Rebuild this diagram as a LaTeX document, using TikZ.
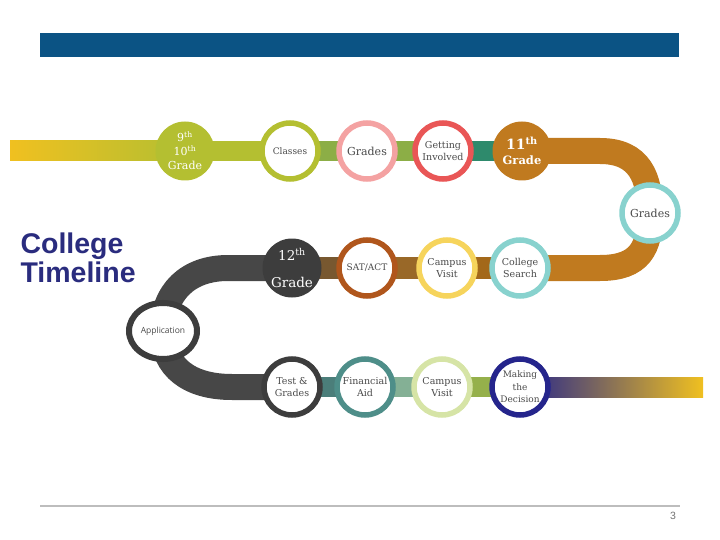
\documentclass[tikz,border=0pt]{standalone}
\usepackage{fontspec}
\setmainfont{DejaVu Serif}
\setsansfont{Liberation Sans}
\newfontfamily\appfont{Open Sans}
\usetikzlibrary{backgrounds,calc,shapes.geometric}
\definecolor{topblue}{HTML}{0B5384}
\definecolor{titlenavy}{HTML}{2A2C7E}
\definecolor{rulegray}{HTML}{BDBDBD}
\definecolor{labelgray}{HTML}{4A4A4A}
\definecolor{gold}{HTML}{F0C020}
\definecolor{olivec}{HTML}{B4BF31}
\definecolor{leafc}{HTML}{8CAE46}
\definecolor{pinkc}{HTML}{F4A2A2}
\definecolor{redc}{HTML}{E95656}
\definecolor{tealg}{HTML}{2E8A6C}
\definecolor{brownc}{HTML}{C07A1F}
\definecolor{aquac}{HTML}{88D2CE}
\definecolor{darkc}{HTML}{3D3D3D}
\definecolor{rustc}{HTML}{B0561C}
\definecolor{yellowc}{HTML}{F6D45C}
\definecolor{sealc}{HTML}{4E8E89}
\definecolor{paleg}{HTML}{D6E4A6}
\definecolor{navyc}{HTML}{25258C}
\tikzset{
  ring/.style={circle,draw=#1,line width=5.5pt,fill=white,minimum size=56pt,inner sep=0pt,
    align=center,text=labelgray,font=\fontsize{9.5}{12}\selectfont},
  disc/.style={circle,fill=#1,minimum size=59pt,inner sep=0pt,align=center,text=white},
  bar/.style={draw=#1,line width=20pt},
  thickbar/.style={draw=#1,line width=26pt},
}
\begin{document}
\begin{tikzpicture}[x=1pt,y=-1pt]
\useasboundingbox (0,0) rectangle (720,540);
\fill[topblue] (40,33) rectangle (679,57);
\draw[rulegray,line width=1.5pt] (40,506) -- (680,506);
\node[font=\sffamily\fontsize{10.5}{11}\selectfont,text=black!55] (page) at (673,516) {3};
\node[anchor=west,align=left,font=\sffamily\bfseries\fontsize{28.5}{29}\selectfont,text=titlenavy] (title) at (17,258) {College\\Timeline};
% top row
\node[disc=olivec,font=\fontsize{11}{14}\selectfont] (g9) at (185,151) {9\textsuperscript{th}\\10\textsuperscript{th}\\Grade};
\node[ring=olivec,font=\fontsize{9}{11}\selectfont] (classes) at (290,151) {Classes};
\node[ring=pinkc,font=\fontsize{11}{13}\selectfont] (grades) at (367,151) {Grades};
\node[ring=redc] (involved) at (443,151) {Getting\\Involved};
\node[disc=brownc,font=\bfseries\fontsize{11.5}{15}\selectfont] (g11) at (522,151) {{\fontsize{14}{15}\selectfont 11\textsuperscript{th}}\\Grade};
\node[ring=aquac,font=\fontsize{11}{13}\selectfont] (gradestwo) at (650,213) {Grades};
% middle row
\node[ring=aquac] (search) at (520,268) {College\\Search};
\node[ring=yellowc] (visit) at (447,268) {Campus\\Visit};
\node[ring=rustc,font=\fontsize{9}{11}\selectfont] (sat) at (367,268) {SAT/ACT};
\node[disc=darkc,font=\fontsize{13.5}{27}\selectfont] (g12) at (292,268) {12\textsuperscript{th}\\Grade};
\node[ellipse,draw=darkc,line width=6pt,fill=white,minimum width=68pt,minimum height=56pt,inner sep=0pt,
  text=labelgray,font=\appfont\fontsize{8.5}{10}\selectfont] (app) at (163,331) {Application};
% bottom row
\node[ring=darkc] (test) at (292,387) {Test \&\\Grades};
\node[ring=sealc] (aid) at (365,387) {Financial\\Aid};
\node[ring=paleg] (visittwo) at (442,387) {Campus\\Visit};
\node[ring=navyc,font=\fontsize{9}{12.5}\selectfont] (decide) at (520,387) {Making\\the\\Decision};
\coordinate (start) at (10,151);
\coordinate (rtop) at (600,151);
\coordinate (rbot) at (600,268);
\coordinate (ltop) at (228,268);
\coordinate (lbot) at (232,387);
\coordinate (finish) at (703,387);
\begin{scope}[on background layer]
\shade[left color=gold,right color=olivec] ($(start)+(0,-10)$) rectangle ($(g9.center)+(0,10)$);
\draw[bar=olivec] (g9.center) -- (classes.center);
\draw[bar=leafc] (classes.center) -- (grades.center);
\draw[bar=leafc] (grades.center) -- (involved.center);
\draw[bar=tealg] (involved.center) -- (g11.center);
\draw[thickbar=brownc] (g11.center) -- (rtop) .. controls (640,151) and (650,178) .. (gradestwo.center)
  .. controls (650,248) and (640,268) .. (rbot) -- (search.center);
\draw[bar=brownc!85!black,line width=22pt] (search.center) -- (visit.center);
\draw[bar=brownc!70!darkc,line width=22pt] (visit.center) -- (sat.center);
\draw[bar=brownc!45!darkc,line width=22pt] (sat.center) -- (g12.center);
\draw[thickbar=darkc!95!white] (g12.center) -- (ltop) .. controls (188,268) and (163,292) .. (app.center)
  .. controls (163,368) and (190,387) .. (lbot) -- (test.center);
\draw[bar=sealc!80!darkc] (test.center) -- (aid.center);
\draw[bar=sealc!60!paleg] (aid.center) -- (visittwo.center);
\draw[bar=olivec!70!sealc] (visittwo.center) -- (decide.center);
\shade[left color=navyc,right color=gold] ($(decide.center)+(0,-10)$) rectangle ($(finish)+(0,10)$);
\end{scope}
\end{tikzpicture}
\end{document}
